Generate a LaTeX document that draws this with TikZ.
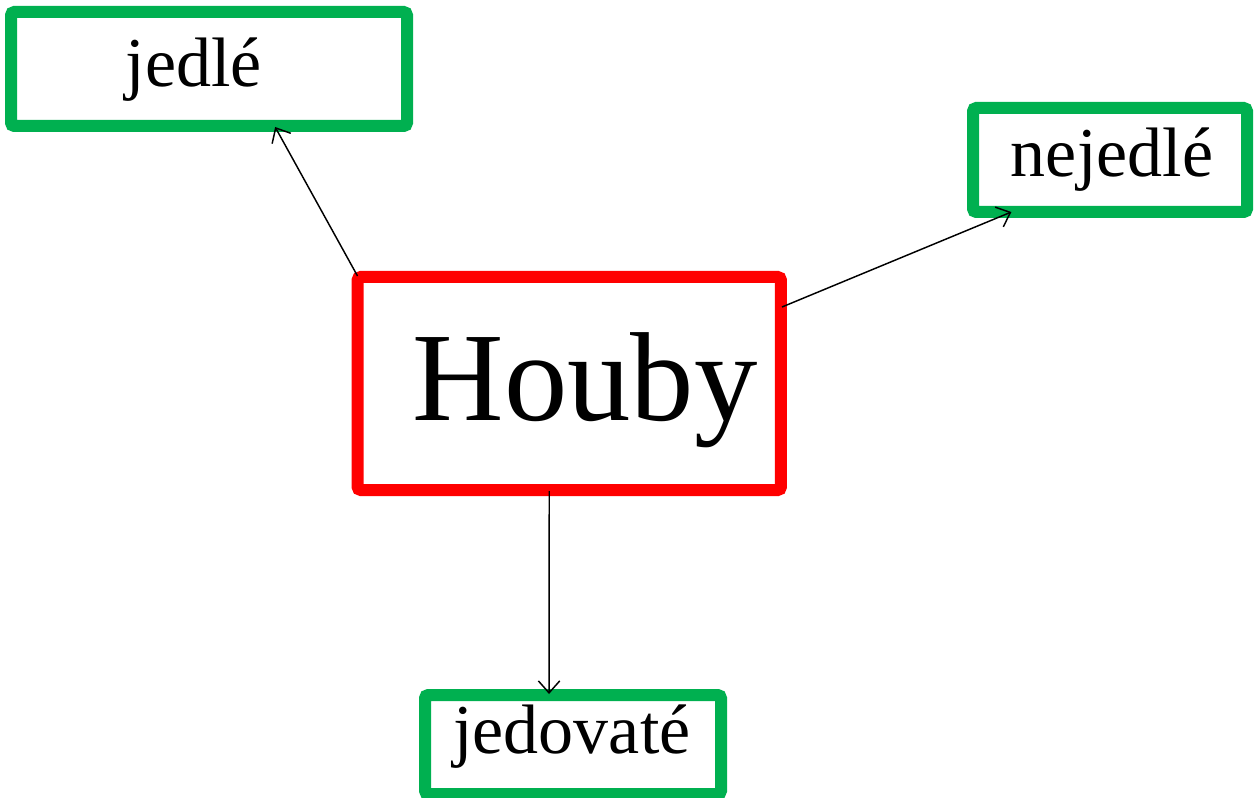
\documentclass[tikz,border=0pt]{standalone}
\usepackage{fontspec}
\setmainfont{Liberation Serif}
\usetikzlibrary{arrows.meta,calc}
\begin{document}
\begin{tikzpicture}[x=0.75pt,y=-0.75pt,
  gbox/.style={draw={rgb,255:red,0;green,176;blue,80},line width=9pt,rounded corners=2.5pt,rectangle,inner sep=0pt,outer sep=0pt},
  rbox/.style={draw={rgb,255:red,255;green,0;blue,0},line width=9pt,rounded corners=2.5pt,rectangle,inner sep=0pt,outer sep=0pt},
  lbl/.style={anchor=base,inner sep=0pt,font=\fontsize{52.5pt}{60pt}\selectfont},
  big/.style={anchor=base,inner sep=0pt,font=\fontsize{95pt}{110pt}\selectfont},
  conn/.style={line width=1.1pt,-{Straight Barb[length=9pt,width=16pt,line width=1.1pt]}}]
\useasboundingbox[fill=white] (0,0) rectangle (1255,798);
\node[gbox,minimum width=297pt,minimum height=85.5pt] (jd) at (209,69) {};
\node[gbox,minimum width=205.5pt,minimum height=78pt] (nj) at (1110,160) {};
\node[rbox,minimum width=317.6pt,minimum height=159.75pt] (hb) at (569.25,383.5) {};
\node[gbox,minimum width=222pt,minimum height=74.25pt] (jv) at (573,744.5) {};
\node[lbl] (tjd) at (194,87) {jedlé};
\node[lbl] (tnj) at (1112,177) {nejedlé};
\node[big] (thb) at (585,420) {Houby};
\node[lbl] (tjv) at (572,753) {jedovaté};
\coordinate (a1s) at ($(hb.north west)+(0,-1)$);
\coordinate (a1e) at ($(jd.south west)!0.667!(jd.south east)+(0,1)$);
\coordinate (a2s) at ($(hb.north east)+(1,30)$);
\coordinate (a2e) at ($(nj.south west)!0.14!(nj.south east)$);
\coordinate (a3s) at ($(hb.south)+(-20,1)$);
\coordinate (a3e) at ($(jv.north west)!0.419!(jv.north east)+(0,-1)$);
\draw[conn] (a1s) -- (a1e);
\draw[conn] (a2s) -- (a2e);
\draw[conn] (a3s) -- (a3e);
\end{tikzpicture}
\end{document}
